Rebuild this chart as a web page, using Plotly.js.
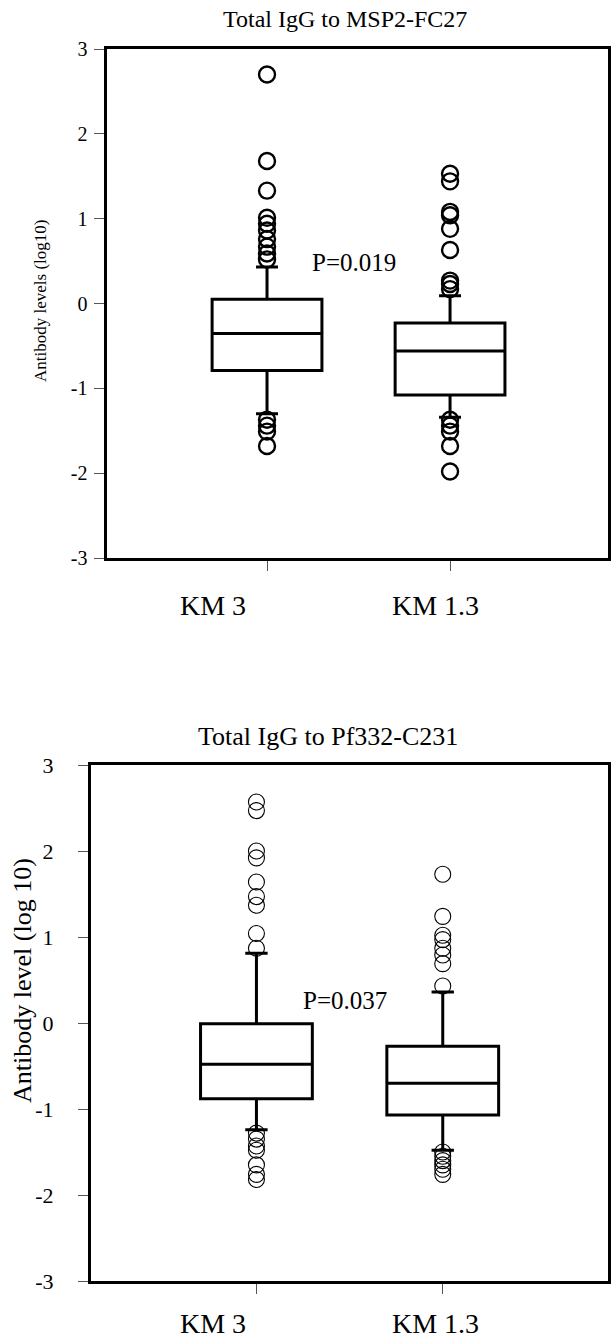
<!DOCTYPE html>
<html>
<head>
<meta charset="utf-8">
<script src="https://cdn.plot.ly/plotly-3.0.1.min.js"></script>
<style>html,body{margin:0;padding:0;background:#fff;}#chart{width:611px;height:1344px;}</style>
</head>
<body>
<div id="chart"></div>
<script>
// ---------- data ----------
const categories = ['KM 3', 'KM 1.3'];
const yTickVals = [-3, -2, -1, 0, 1, 2, 3];
const yTickText = ['-3', '-2', '-1', '0', '1', '2', '3'];

// Panel 1: Total IgG to MSP2-FC27
const msp2Title = 'Total IgG to MSP2-FC27';
const msp2YTitle = 'Antibody levels (log10)';
const msp2PText = 'P=0.019';
const msp2Q1 = [-0.79, -1.08];
const msp2Median = [-0.355, -0.56];
const msp2Q3 = [0.05, -0.23];
const msp2LowerFence = [-1.30, -1.34];
const msp2UpperFence = [0.43, 0.09];
const msp2OutKM3 = [2.70, 1.68, 1.33, 1.01, 0.94, 0.86, 0.76, 0.67, 0.59, 0.52, -1.37, -1.44, -1.51, -1.68];
const msp2OutKM13 = [1.53, 1.44, 1.08, 1.04, 0.88, 0.63, 0.27, 0.23, 0.17, -1.37, -1.44, -1.51, -1.68, -1.98];

// Panel 2: Total IgG to Pf332-C231
const pf332Title = 'Total IgG to Pf332-C231';
const pf332YTitle = 'Antibody level (log 10)';
const pf332PText = 'P=0.037';
const pf332Q1 = [-0.88, -1.07];
const pf332Median = [-0.48, -0.70];
const pf332Q3 = [-0.01, -0.27];
const pf332LowerFence = [-1.24, -1.48];
const pf332UpperFence = [0.81, 0.36];
const pf332OutKM3 = [2.57, 2.47, 2.00, 1.92, 1.64, 1.47, 1.37, 1.04, 0.87, -1.28, -1.35, -1.43, -1.48, -1.65, -1.76, -1.82];
const pf332OutKM13 = [1.73, 1.24, 1.02, 0.97, 0.87, 0.79, 0.69, 0.43, -1.50, -1.55, -1.60, -1.65, -1.70, -1.76];

// ---------- layout helpers ----------
const W = 611, H = 1344;
const FONT = 'Liberation Serif, Times New Roman, serif';
const px = v => v / W;
const py = v => 1 - v / H;

function boxTrace(q1, med, q3, lf, uf, xa, ya) {
  return {
    type: 'box', x: categories, q1: q1, median: med, q3: q3,
    lowerfence: lf, upperfence: uf, boxpoints: false,
    width: 0.6, whiskerwidth: 0.2,
    line: {color: '#000', width: 3}, fillcolor: 'rgba(255,255,255,0)',
    xaxis: xa, yaxis: ya, hoverinfo: 'skip', showlegend: false
  };
}
function outTrace(vals, cat, xa, ya, lw) {
  return {
    type: 'scatter', mode: 'markers', x: vals.map(() => cat), y: vals,
    marker: {symbol: 'circle-open', size: 16, color: '#000', line: {color: '#000', width: lw}},
    xaxis: xa, yaxis: ya, hoverinfo: 'skip', showlegend: false
  };
}

const data = [
  boxTrace(msp2Q1, msp2Median, msp2Q3, msp2LowerFence, msp2UpperFence, 'x', 'y'),
  outTrace(msp2OutKM3, categories[0], 'x', 'y', 2.4),
  outTrace(msp2OutKM13, categories[1], 'x', 'y', 2.4),
  boxTrace(pf332Q1, pf332Median, pf332Q3, pf332LowerFence, pf332UpperFence, 'x2', 'y2'),
  outTrace(pf332OutKM3, categories[0], 'x2', 'y2', 1.1),
  outTrace(pf332OutKM13, categories[1], 'x2', 'y2', 1.1)
];

function xAxis(domain, range, anchor) {
  return {
    type: 'category', domain: domain, range: range, anchor: anchor,
    categoryorder: 'array', categoryarray: categories,
    showline: true, linecolor: '#000', linewidth: 3, mirror: true,
    ticks: 'outside', ticklen: 10, tickwidth: 1, tickcolor: '#555',
    showticklabels: false, showgrid: false, zeroline: false, fixedrange: true
  };
}
function yAxis(domain, anchor, fs, standoff) {
  return {
    domain: domain, range: [-3, 3], anchor: anchor,
    tickmode: 'array', tickvals: yTickVals, ticktext: yTickText,
    showline: true, linecolor: '#000', linewidth: 3, mirror: true,
    ticks: 'outside', ticklen: 10, tickwidth: 1, tickcolor: '#555',
    tickfont: {family: FONT, size: fs, color: '#000'}, ticklabelstandoff: standoff,
    showgrid: false, zeroline: false, fixedrange: true
  };
}

const annotations = [];
function text(t, x, y, size, opts) {
  annotations.push(Object.assign({
    text: t, x: x, y: y, xref: 'paper', yref: 'paper', showarrow: false,
    xanchor: 'center', yanchor: 'middle', font: {family: FONT, size: size, color: '#000'}
  }, opts || {}));
}
// titles
text(msp2Title, px(345), py(19), 24);
text(pf332Title, px(328), py(736), 26);
// y titles
text(msp2YTitle, px(40), py(301), 17, {textangle: -90});
text(pf332YTitle, px(22), py(981), 26, {textangle: -90});
// x category labels (offset left of the ticks, as in the original)
const topShift = [-54, -14.5], botShift = [-43, -7];
categories.forEach((c, i) => {
  text(c, i, py(605), 28, {xref: 'x', xshift: topShift[i]});
  text(c, i, py(1323), 28, {xref: 'x2', xshift: botShift[i]});
});
// p-values
text(msp2PText, 0.475, 0.48, 25, {xref: 'x', yref: 'y'});
text(pf332PText, 0.476, 0.26, 25, {xref: 'x2', yref: 'y2'});

const layout = {
  width: W, height: H,
  margin: {l: 0, r: 0, t: 0, b: 0, pad: 0},
  paper_bgcolor: '#fff', plot_bgcolor: '#fff',
  showlegend: false,
  font: {family: FONT, color: '#000'},
  xaxis: xAxis([px(106.5), px(608)], [-0.877, 1.863], 'y'),
  yaxis: yAxis([py(558), py(49)], 'x', 20, 2),
  xaxis2: xAxis([px(91), px(608)], [-0.888, 1.887], 'y2'),
  yaxis2: yAxis([py(1281), py(765)], 'x2', 22, 20),
  annotations: annotations
};

Plotly.newPlot('chart', data, layout, {staticPlot: true, displayModeBar: false});
</script>
</body>
</html>
